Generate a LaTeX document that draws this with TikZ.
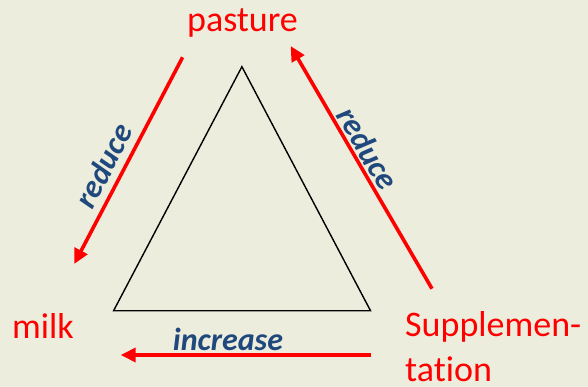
\documentclass[tikz,border=0pt]{standalone}
\usepackage{fontspec}
\setmainfont[Ligatures={NoCommon}]{Carlito}
\usetikzlibrary{arrows.meta}
\definecolor{bgc}{RGB}{237,237,221}
\definecolor{lblue}{RGB}{31,73,125}
\definecolor{ared}{RGB}{255,0,0}
\tikzset{
  redarrow/.style={draw=ared, line width=3.6pt, -{Triangle[length=15pt,width=14pt]}},
  term/.style={text=ared, inner sep=0pt, font=\fontsize{36}{40}\selectfont},
  lab/.style={text=lblue, inner sep=0pt, font=\fontsize{32}{36}\selectfont\bfseries\itshape},
}
\begin{document}
\begin{tikzpicture}[x=1pt,y=-1pt]
\fill[bgc] (0,0) rectangle (588,387);
\useasboundingbox (0,0) rectangle (588,387);
% triangle
\coordinate (tA) at (241.9,66.7);
\coordinate (tB) at (113.6,310.7);
\coordinate (tC) at (370.5,310.7);
\draw[black, line width=1.4pt, line join=miter] (tA) -- (tB) -- (tC) -- cycle;
% terms
\node[term, anchor=base] (pasture) at (242.5,31.7) {pasture};
\node[term, anchor=base west] (milk) at (12,338.3) {milk};
\node[term, anchor=base west] (supp) at (405,336.7) {Supplemen-};
\node[term, anchor=base west] (supp2) at (405,381.7) {tation};
% arrow ends
\coordinate (l1) at (182.6,57.3);
\coordinate (l2) at (74.2,264);
\coordinate (r1) at (432,288.7);
\coordinate (r2) at (290.6,46);
\coordinate (b1) at (370.5,355);
\coordinate (b2) at (120.7,355);
\draw[redarrow] (l1) -- (l2);
\draw[redarrow] (r1) -- (r2);
\draw[redarrow] (b1) -- (b2);
% labels
\node[lab, rotate=62.3] (redL) at (103.5,165.5) {reduce};
\node[lab, rotate=-59.8] (redR) at (368,148.3) {reduce};
\node[lab, anchor=base] (incr) at (228,350.7) {increase};
\end{tikzpicture}
\end{document}
